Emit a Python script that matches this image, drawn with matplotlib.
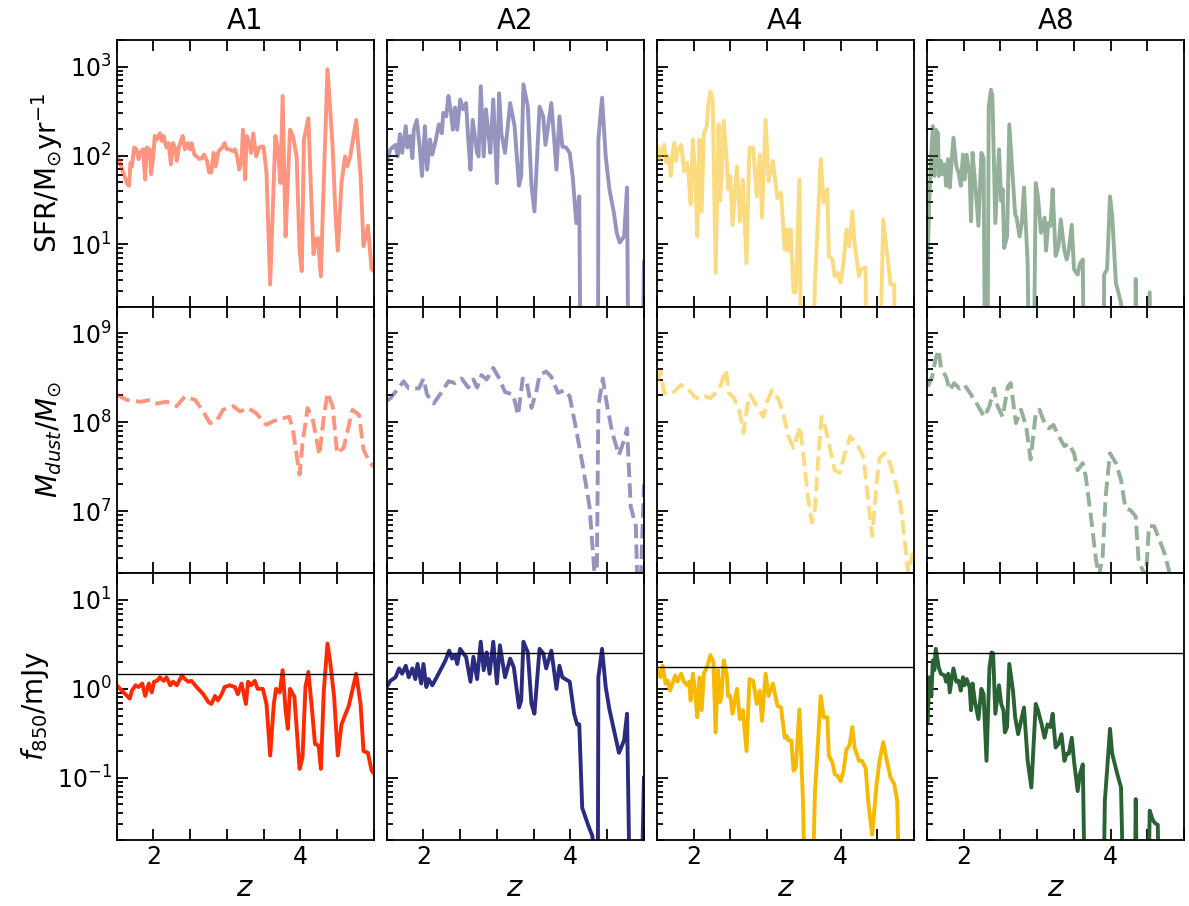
import numpy as np
import matplotlib.pyplot as plt
from matplotlib.ticker import MultipleLocator

# all y values are stored as log10 (values below the axis floor are -3)

# ---- A1 ----
a1_sfr_z = [1.50, 1.53, 1.58, 1.64, 1.67, 1.69, 1.71, 1.74, 1.77, 1.80, 1.82, 1.86, 1.89, 1.91, 1.95, 1.97,
            2.00, 2.02, 2.05, 2.09, 2.12, 2.14, 2.18, 2.21, 2.24, 2.27, 2.30, 2.32, 2.35, 2.40, 2.43, 2.47,
            2.50, 2.52, 2.56, 2.59, 2.63, 2.66, 2.69, 2.73, 2.76, 2.79, 2.82, 2.85, 2.88, 2.91, 2.94, 2.97,
            3.00, 3.04, 3.08, 3.11, 3.14, 3.17, 3.20, 3.22, 3.25, 3.27, 3.31, 3.33, 3.36, 3.40, 3.44, 3.47,
            3.50, 3.54, 3.59, 3.64, 3.66, 3.69, 3.73, 3.76, 3.80, 3.83, 3.86, 3.90, 3.95, 3.99, 4.02, 4.05,
            4.11, 4.14, 4.18, 4.21, 4.24, 4.28, 4.31, 4.37, 4.44, 4.48, 4.51, 4.56, 4.61, 4.64, 4.68, 4.76,
            4.82, 4.86, 4.92, 4.97, 5.00]
a1_sfr_log = [1.92, 1.96, 1.84, 1.69, 1.66, 1.92, 1.88, 2.09, 2.07, 1.96, 2.03, 2.07, 1.73, 2.09, 2.07, 1.79,
              1.99, 2.22, 2.18, 2.25, 2.16, 2.22, 2.09, 2.14, 1.90, 2.14, 2.07, 1.94, 2.10, 2.22, 2.07, 2.14,
              2.07, 2.14, 2.01, 1.99, 1.96, 1.97, 2.01, 1.94, 1.81, 1.81, 2.03, 1.88, 2.03, 2.07, 2.09, 2.14,
              2.07, 2.07, 2.05, 2.07, 1.99, 1.84, 1.94, 2.29, 1.73, 2.22, 2.14, 2.03, 2.25, 1.99, 2.09, 2.10,
              2.10, 1.81, 0.55, 1.73, 2.22, 2.10, 1.69, 2.67, 1.09, 1.69, 2.29, 2.22, 1.99, 0.94, 0.70, 2.18,
              2.42, 1.73, 0.89, 1.06, 1.07, 0.64, 1.47, 2.97, 2.10, 1.32, 0.93, 1.69, 1.99, 1.88, 1.99, 2.40,
              1.77, 0.98, 1.21, 0.72, 0.70]
a1_dust_z = [1.50, 1.64, 1.82, 1.96, 2.05, 2.18, 2.32, 2.43, 2.57, 2.68, 2.77, 2.86, 2.95, 3.09, 3.18, 3.29,
             3.40, 3.54, 3.63, 3.74, 3.85, 3.90, 3.99, 4.03, 4.10, 4.17, 4.26, 4.32, 4.37, 4.44, 4.50, 4.59,
             4.71, 4.80, 4.86, 4.95, 5.00]
a1_dust_log = [8.31, 8.25, 8.23, 8.25, 8.21, 8.23, 8.18, 8.29, 8.25, 8.12, 7.99, 8.01, 8.14, 8.18, 8.12, 8.16,
               8.10, 7.97, 8.01, 8.04, 8.06, 7.91, 7.41, 7.76, 8.16, 8.03, 7.63, 8.06, 8.33, 8.18, 7.65, 7.71,
               8.14, 8.08, 7.69, 7.54, 7.50]
a1_f850_z = [1.50, 1.55, 1.62, 1.68, 1.71, 1.76, 1.80, 1.85, 1.89, 1.94, 1.98, 2.01, 2.05, 2.09, 2.14, 2.18,
             2.23, 2.27, 2.32, 2.39, 2.43, 2.48, 2.52, 2.59, 2.68, 2.75, 2.79, 2.84, 2.88, 2.93, 2.97, 3.04,
             3.11, 3.15, 3.20, 3.26, 3.29, 3.33, 3.38, 3.42, 3.49, 3.54, 3.59, 3.64, 3.67, 3.72, 3.76, 3.80,
             3.83, 3.86, 3.92, 3.99, 4.03, 4.07, 4.11, 4.16, 4.20, 4.25, 4.28, 4.32, 4.37, 4.41, 4.46, 4.51,
             4.56, 4.66, 4.76, 4.82, 4.86, 4.92, 4.97, 5.00]
a1_f850_log = [0.04, 0.00, -0.06, -0.11, -0.02, 0.04, 0.02, 0.06, -0.08, 0.06, -0.04, 0.08, 0.09, 0.13, 0.09, 0.13,
               0.04, 0.08, 0.04, 0.15, 0.11, 0.08, 0.09, 0.02, -0.06, -0.15, -0.17, -0.08, -0.13, -0.06, 0.02, 0.04,
               0.02, -0.06, 0.06, -0.17, 0.08, 0.04, 0.09, 0.00, 0.00, -0.17, -0.75, -0.17, 0.00, -0.04, 0.21, -0.24,
               -0.45, 0.00, -0.09, -0.90, -0.77, 0.02, 0.19, -0.24, -0.62, -0.64, -0.90, -0.02, 0.51, 0.28, -0.09, -0.75,
               -0.40, -0.19, 0.17, -0.17, -0.70, -0.72, -0.92, -0.95]

# ---- A2 ----
a2_sfr_z = [1.50, 1.55, 1.62, 1.65, 1.68, 1.71, 1.76, 1.78, 1.82, 1.85, 1.87, 1.91, 1.95, 1.98, 2.02, 2.05,
            2.09, 2.12, 2.16, 2.21, 2.25, 2.27, 2.31, 2.34, 2.37, 2.40, 2.43, 2.46, 2.50, 2.54, 2.58, 2.61,
            2.64, 2.67, 2.73, 2.75, 2.78, 2.82, 2.85, 2.88, 2.91, 2.95, 3.00, 3.03, 3.06, 3.11, 3.18, 3.24,
            3.30, 3.33, 3.36, 3.42, 3.47, 3.51, 3.58, 3.63, 3.66, 3.74, 3.81, 3.85, 3.89, 3.94, 3.99, 4.03,
            4.08, 4.12, 4.16, 4.25, 4.37, 4.38, 4.43, 4.48, 4.53, 4.59, 4.63, 4.67, 4.73, 4.77, 4.81, 4.95,
            5.00]
a2_sfr_log = [1.92, 2.07, 2.12, 1.99, 2.24, 2.03, 2.33, 2.09, 2.22, 1.97, 2.29, 2.40, 2.09, 1.77, 2.33, 1.84,
              2.18, 2.01, 2.14, 2.35, 2.25, 2.48, 2.44, 2.67, 2.52, 2.29, 2.54, 2.29, 2.63, 2.52, 2.59, 2.18,
              1.84, 2.40, 2.03, 1.99, 2.78, 1.99, 2.52, 2.29, 2.03, 2.63, 1.69, 2.70, 2.25, 2.03, 2.59, 2.33,
              1.66, 1.77, 2.80, 2.55, 1.66, 1.37, 2.55, 2.44, 2.12, 2.59, 1.84, 2.44, 2.10, 2.09, 2.03, 1.77,
              1.24, 1.54, -3.0, -3.0, -3.0, 2.18, 2.65, 1.99, 1.62, 1.36, 1.13, 1.02, 1.09, 1.64, -3.0, -3.0,
              0.80]
a2_dust_z = [1.50, 1.55, 1.64, 1.73, 1.80, 1.87, 1.94, 2.00, 2.05, 2.14, 2.25, 2.34, 2.43, 2.52, 2.61, 2.68,
             2.73, 2.79, 2.86, 2.95, 3.02, 3.11, 3.22, 3.29, 3.35, 3.40, 3.47, 3.54, 3.58, 3.67, 3.74, 3.83,
             3.92, 3.99, 4.08, 4.17, 4.26, 4.32, 4.35, 4.38, 4.44, 4.50, 4.57, 4.66, 4.73, 4.77, 4.82, 4.89,
             4.93, 5.00]
a2_dust_log = [8.24, 8.27, 8.36, 8.46, 8.38, 8.38, 8.38, 8.49, 8.31, 8.21, 8.34, 8.46, 8.44, 8.49, 8.39, 8.48,
               8.39, 8.53, 8.48, 8.61, 8.51, 8.34, 8.31, 8.08, 8.49, 8.48, 8.16, 8.36, 8.53, 8.57, 8.51, 8.33,
               8.36, 8.29, 7.91, 7.50, 7.05, 6.38, 5.50, 8.18, 8.49, 8.18, 7.88, 7.63, 7.80, 7.93, 7.05, 6.83,
               5.50, 7.30]
a2_f850_z = [1.50, 1.55, 1.62, 1.67, 1.71, 1.76, 1.80, 1.85, 1.89, 1.92, 1.97, 2.00, 2.04, 2.07, 2.12, 2.18,
             2.25, 2.30, 2.35, 2.39, 2.43, 2.46, 2.50, 2.54, 2.58, 2.64, 2.68, 2.73, 2.78, 2.82, 2.86, 2.90,
             2.95, 3.00, 3.04, 3.11, 3.18, 3.23, 3.30, 3.33, 3.36, 3.42, 3.47, 3.51, 3.58, 3.63, 3.67, 3.74,
             3.81, 3.85, 3.89, 3.99, 4.05, 4.09, 4.12, 4.16, 4.24, 4.30, 4.34, 4.37, 4.38, 4.43, 4.48, 4.53,
             4.57, 4.66, 4.73, 4.77, 4.82, 4.95, 5.00]
a2_f850_log = [0.02, 0.09, 0.13, 0.23, 0.17, 0.26, 0.13, 0.23, 0.11, 0.28, 0.06, 0.28, 0.02, 0.11, 0.04, 0.13,
               0.24, 0.32, 0.43, 0.34, 0.38, 0.28, 0.45, 0.40, 0.36, 0.08, 0.36, 0.11, 0.53, 0.21, 0.41, 0.17,
               0.53, 0.06, 0.49, 0.13, 0.34, 0.24, -0.21, -0.13, 0.53, 0.41, -0.17, -0.28, 0.45, 0.40, 0.23, 0.43,
               0.00, 0.26, 0.13, 0.08, -0.28, -0.40, -0.40, -1.34, -1.53, -1.66, -3.0, -3.0, 0.13, 0.45, 0.02, -0.23,
               -0.38, -0.72, -0.58, -0.28, -3.0, -3.0, -1.00]

# ---- A4 ----
a4_sfr_z = [1.51, 1.54, 1.57, 1.60, 1.63, 1.65, 1.67, 1.69, 1.72, 1.74, 1.76, 1.78, 1.83, 1.85, 1.87, 1.91,
            1.93, 1.96, 1.99, 2.02, 2.05, 2.08, 2.11, 2.14, 2.18, 2.20, 2.23, 2.26, 2.30, 2.34, 2.36, 2.38,
            2.41, 2.45, 2.47, 2.50, 2.53, 2.59, 2.63, 2.67, 2.72, 2.76, 2.81, 2.86, 2.90, 2.93, 2.98, 3.02,
            3.08, 3.14, 3.19, 3.24, 3.27, 3.29, 3.32, 3.36, 3.39, 3.44, 3.49, 3.56, 3.65, 3.73, 3.77, 3.82,
            3.84, 3.89, 3.92, 3.96, 4.00, 4.04, 4.08, 4.12, 4.16, 4.19, 4.25, 4.28, 4.34, 4.38, 4.46, 4.58,
            4.68, 4.73, 4.77]
a4_sfr_log = [2.10, 1.96, 2.07, 2.12, 1.92, 1.99, 1.94, 1.77, 2.07, 2.14, 1.94, 2.03, 2.12, 1.99, 1.82, 1.92,
              1.79, 1.45, 2.18, 1.84, 1.09, 2.18, 1.37, 2.25, 2.33, 2.57, 2.72, 2.63, 0.68, 2.35, 1.49, 1.73,
              2.39, 1.97, 1.62, 1.77, 1.22, 1.88, 1.26, 1.73, 0.79, 2.09, 2.09, 1.54, 2.01, 1.30, 2.40, 1.71,
              1.94, 1.52, 1.58, 0.94, 1.17, 0.93, 1.17, 0.46, 0.46, 1.73, -3.0, -3.0, 0.55, 1.96, 1.47, 1.62,
              0.87, 0.83, 0.64, 0.68, 0.57, 0.79, 1.17, 0.98, 1.37, 1.02, 0.64, 0.72, 0.74, -3.0, -3.0, 1.28,
              0.55, 0.55, -3.0]
a4_dust_z = [1.51, 1.55, 1.60, 1.69, 1.83, 1.94, 2.01, 2.10, 2.17, 2.23, 2.30, 2.37, 2.44, 2.48, 2.55, 2.62,
             2.68, 2.73, 2.77, 2.86, 2.95, 3.00, 3.07, 3.16, 3.23, 3.29, 3.36, 3.45, 3.50, 3.56, 3.61, 3.65,
             3.70, 3.74, 3.79, 3.86, 3.92, 3.99, 4.06, 4.13, 4.22, 4.31, 4.37, 4.43, 4.49, 4.53, 4.60, 4.67,
             4.76, 4.82, 4.89, 4.92, 4.98]
a4_dust_log = [8.46, 8.57, 8.33, 8.31, 8.42, 8.36, 8.29, 8.25, 8.29, 8.27, 8.33, 8.42, 8.59, 8.33, 8.27, 8.14,
               7.88, 8.18, 8.31, 8.18, 8.06, 8.23, 8.36, 8.25, 8.06, 7.84, 7.71, 7.95, 7.58, 7.13, 6.87, 7.02,
               7.65, 8.06, 7.95, 7.69, 7.46, 7.43, 7.65, 7.84, 7.76, 7.61, 7.16, 6.72, 7.31, 7.60, 7.65, 7.54,
               7.28, 7.05, 6.53, 6.30, 6.53]
a4_f850_z = [1.51, 1.55, 1.58, 1.62, 1.65, 1.68, 1.72, 1.75, 1.78, 1.83, 1.87, 1.91, 1.94, 1.96, 1.99, 2.02,
             2.05, 2.08, 2.11, 2.14, 2.19, 2.23, 2.27, 2.30, 2.33, 2.36, 2.38, 2.41, 2.45, 2.47, 2.50, 2.53,
             2.59, 2.63, 2.67, 2.72, 2.76, 2.81, 2.86, 2.90, 2.93, 2.98, 3.02, 3.08, 3.14, 3.19, 3.24, 3.27,
             3.29, 3.33, 3.36, 3.39, 3.44, 3.49, 3.53, 3.60, 3.65, 3.73, 3.77, 3.82, 3.84, 3.89, 3.92, 3.96,
             4.00, 4.04, 4.08, 4.12, 4.16, 4.19, 4.25, 4.29, 4.34, 4.38, 4.43, 4.49, 4.53, 4.58, 4.62, 4.68,
             4.73, 4.77, 4.82]
a4_f850_log = [0.21, 0.13, 0.26, 0.06, 0.09, -0.02, 0.08, 0.15, 0.08, 0.17, 0.08, 0.04, 0.08, -0.13, 0.17, -0.02,
               -0.32, 0.13, -0.24, 0.17, 0.26, 0.38, 0.30, -0.49, 0.21, -0.15, -0.08, 0.32, 0.17, -0.08, -0.08, -0.28,
               0.00, -0.34, -0.24, -0.70, 0.11, 0.09, -0.17, -0.02, -0.36, 0.17, -0.08, 0.06, -0.19, -0.21, -0.55, -0.53,
               -0.58, -0.58, -0.92, -0.89, -0.23, -1.30, -3.0, -3.0, -1.19, -0.08, -0.32, -0.32, -0.75, -0.83, -0.96, -0.98,
               -1.04, -0.92, -0.68, -0.64, -0.43, -0.66, -0.81, -0.81, -0.89, -1.30, -1.64, -1.07, -0.81, -0.60, -0.77, -1.00,
               -1.07, -1.26, -3.0]

# ---- A8 ----
a8_sfr_z = [1.51, 1.53, 1.56, 1.58, 1.60, 1.62, 1.65, 1.66, 1.69, 1.71, 1.74, 1.76, 1.79, 1.81, 1.86, 1.90,
            1.93, 1.96, 1.99, 2.01, 2.04, 2.08, 2.10, 2.12, 2.16, 2.20, 2.24, 2.27, 2.31, 2.34, 2.37, 2.39,
            2.43, 2.48, 2.51, 2.53, 2.55, 2.59, 2.62, 2.67, 2.70, 2.72, 2.76, 2.79, 2.82, 2.87, 2.92, 2.98,
            3.01, 3.05, 3.10, 3.12, 3.15, 3.18, 3.21, 3.25, 3.29, 3.32, 3.37, 3.40, 3.43, 3.47, 3.50, 3.55,
            3.58, 3.62, 3.66, 3.89, 3.91, 3.95, 3.99, 4.02, 4.07, 4.14, 4.19, 4.32, 4.34, 4.37, 4.50, 4.53,
            4.57]
a8_sfr_log = [0.79, 1.47, 2.03, 2.33, 1.77, 2.29, 2.25, 1.77, 1.94, 1.79, 1.90, 1.66, 1.96, 1.64, 2.20, 1.88,
              1.81, 1.66, 2.01, 1.73, 2.01, 1.77, 1.26, 2.03, 1.64, 1.21, 2.03, 1.97, -3.0, 2.55, 2.74, 2.67,
              1.24, 2.07, 1.49, 1.62, 0.96, 1.09, 2.35, 1.71, 1.34, 1.30, 1.09, 1.24, 1.64, 0.79, -3.0, 1.69,
              1.54, 1.13, 1.30, 0.93, 1.24, 1.21, 1.62, 0.87, 0.98, 1.28, 0.93, 0.83, 0.94, 1.22, 0.72, 0.66,
              0.78, 0.83, -3.0, -3.0, 0.66, 0.72, 1.54, 1.32, 0.57, 0.34, -3.0, -3.0, 0.61, -3.0, -3.0, 0.46,
              -3.0]
a8_dust_z = [1.51, 1.57, 1.62, 1.66, 1.69, 1.76, 1.81, 1.87, 1.94, 2.01, 2.10, 2.19, 2.28, 2.35, 2.41, 2.46,
             2.53, 2.60, 2.64, 2.71, 2.78, 2.85, 2.91, 2.98, 3.03, 3.10, 3.16, 3.22, 3.28, 3.37, 3.43, 3.50,
             3.55, 3.62, 3.66, 3.73, 3.80, 3.84, 3.89, 3.93, 3.99, 4.07, 4.14, 4.20, 4.27, 4.34, 4.38, 4.48,
             4.52, 4.59, 4.66, 4.73, 4.79, 4.84]
a8_dust_log = [8.40, 8.51, 8.72, 8.81, 8.61, 8.51, 8.36, 8.44, 8.38, 8.42, 8.31, 8.19, 8.06, 8.18, 8.38, 8.18,
               8.06, 8.40, 8.44, 7.99, 8.14, 7.95, 7.58, 8.10, 8.14, 7.99, 7.93, 7.97, 7.86, 7.73, 7.76, 7.65,
               7.46, 7.54, 7.39, 6.94, 6.45, 6.27, 6.49, 7.16, 7.65, 7.54, 7.35, 7.03, 7.01, 6.94, 6.42, 6.27,
               6.83, 6.83, 6.68, 6.53, 6.34, 6.10]
a8_f850_z = [1.51, 1.53, 1.56, 1.58, 1.60, 1.62, 1.66, 1.69, 1.74, 1.76, 1.79, 1.81, 1.86, 1.90, 1.93, 1.96,
             1.99, 2.01, 2.04, 2.08, 2.10, 2.12, 2.15, 2.20, 2.24, 2.27, 2.31, 2.35, 2.38, 2.40, 2.43, 2.48,
             2.51, 2.54, 2.56, 2.59, 2.62, 2.67, 2.70, 2.74, 2.78, 2.82, 2.87, 2.92, 2.98, 3.01, 3.06, 3.10,
             3.14, 3.18, 3.21, 3.25, 3.29, 3.33, 3.37, 3.40, 3.43, 3.47, 3.50, 3.55, 3.58, 3.62, 3.66, 3.89,
             3.92, 3.95, 3.99, 4.02, 4.09, 4.14, 4.19, 4.32, 4.34, 4.37, 4.50, 4.53, 4.57, 4.60, 4.64, 4.67]
a8_f850_log = [-0.36, 0.13, -0.08, 0.32, 0.21, 0.45, 0.24, 0.17, 0.15, 0.08, 0.17, -0.04, 0.23, 0.08, 0.09, -0.02,
               0.13, 0.04, 0.11, 0.02, -0.24, 0.06, -0.13, -0.34, 0.00, -0.06, -0.81, 0.24, 0.41, 0.40, -0.28, 0.04,
               -0.17, -0.24, -0.49, -0.43, 0.28, -0.02, -0.32, -0.51, -0.36, -0.21, -0.81, -1.11, -0.17, -0.24, -0.40, -0.55,
               -0.40, -0.43, -0.28, -0.66, -0.62, -0.51, -0.81, -0.73, -0.73, -0.55, -0.81, -1.15, -0.96, -0.85, -3.0, -3.0,
               -1.26, -0.92, -0.45, -0.73, -0.96, -1.11, -3.0, -3.0, -1.24, -3.0, -3.0, -1.37, -1.47, -1.51, -1.53, -3.0]

runs = ['A1', 'A2', 'A4', 'A8']
colors = ['#ff2a00', '#2b2b80', '#f7b900', '#2a6234']
f850_limit = [1.45, 2.5, 1.78, 2.5]

sfr = [(a1_sfr_z, a1_sfr_log), (a2_sfr_z, a2_sfr_log), (a4_sfr_z, a4_sfr_log), (a8_sfr_z, a8_sfr_log)]
dust = [(a1_dust_z, a1_dust_log), (a2_dust_z, a2_dust_log), (a4_dust_z, a4_dust_log), (a8_dust_z, a8_dust_log)]
f850 = [(a1_f850_z, a1_f850_log), (a2_f850_z, a2_f850_log), (a4_f850_z, a4_f850_log), (a8_f850_z, a8_f850_log)]

fig, axes = plt.subplots(3, 4, sharex=True, sharey='row', figsize=(11.89, 9.06), dpi=100)
plt.subplots_adjust(left=0.098, right=0.996, top=0.956, bottom=0.073, wspace=0.05, hspace=0.0)

for j in range(4):
    c = colors[j]
    z, v = sfr[j]
    axes[0, j].plot(z, 10 ** np.array(v), color=c, alpha=0.5, lw=2.8)
    z, v = dust[j]
    axes[1, j].plot(z, 10 ** np.array(v), color=c, alpha=0.5, lw=2.8, ls='--')
    z, v = f850[j]
    axes[2, j].plot(z, 10 ** np.array(v), color=c, lw=2.8)
    axes[2, j].axhline(f850_limit[j], color='k', lw=1)
    axes[0, j].set_title(runs[j], fontsize=20, pad=8)
    axes[2, j].set_xlabel('$z$', fontsize=21)

for ax in axes.flat:
    ax.set_yscale('log')
    ax.set_xlim(1.5, 5.0)
    ax.xaxis.set_major_locator(MultipleLocator(2))
    ax.xaxis.set_minor_locator(MultipleLocator(0.5))
    ax.tick_params(which='both', direction='in', top=True, right=False, width=1.3, labelsize=17)
    ax.tick_params(which='major', length=8)
    ax.tick_params(axis='y', which='minor', length=4)
    ax.tick_params(axis='x', which='minor', length=8)
    for s in ax.spines.values():
        s.set_linewidth(1.3)

axes[0, 0].set_ylim(2, 2000)
axes[1, 0].set_ylim(2e6, 2e9)
axes[2, 0].set_ylim(0.02, 20)
axes[0, 0].set_ylabel(r'SFR/M$_{\odot}$yr$^{-1}$', fontsize=20)
axes[1, 0].set_ylabel(r'$M_{dust}/M_{\odot}$', fontsize=20)
axes[2, 0].set_ylabel(r'$f_{850}$/mJy', fontsize=20)

fig.savefig('out.png', dpi=100)
